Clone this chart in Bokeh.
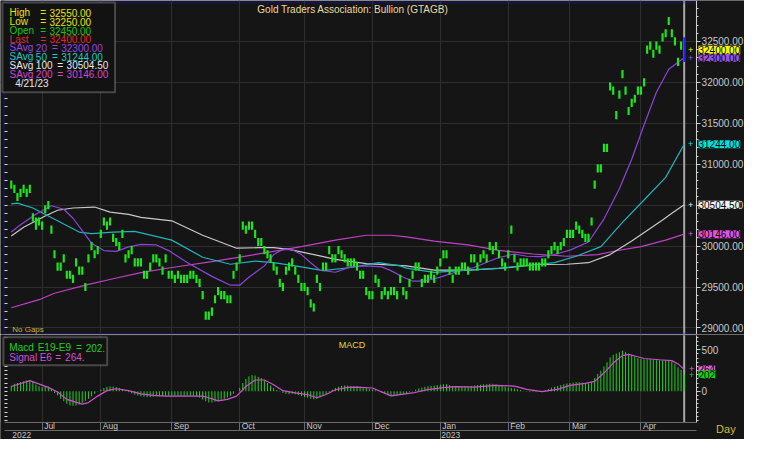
from bokeh.plotting import figure
from bokeh.layouts import column
from bokeh.models import (Range1d, LinearAxis, FixedTicker, NumeralTickFormatter,
                          CustomJSTickFormatter, Label, BoxAnnotation, Span, Grid)
from bokeh.embed import file_html
from bokeh.resources import INLINE

# ---------------- data ----------------
bar_high = [30800,30750,30650,30700,30750,30700,30750,30400,30350,30350,
            30300,30500,30550,30250,29950,29800,29800,29900,29700,29700,
            29650,29850,29750,29750,29550,29900,30050,29950,30000,30200,
            30350,30300,30350,30150,30100,30050,30200,29900,29950,30000,
            29850,29850,29850,29700,29700,29800,29900,29900,29850,29750,
            29900,29700,29700,29650,29700,29650,29650,29650,29700,29700,
            29650,29600,29450,29200,29200,29250,29400,29500,29450,29450,
            29400,29400,29700,29800,29900,30300,30250,30300,30300,30200,
            30100,30100,30000,29950,29900,29800,29750,29600,29550,29750,
            29800,29850,29750,29650,29550,29550,29500,29350,29300,29650,
            29550,29800,29800,30000,29900,29900,30000,29950,29900,29850,
            29850,29850,29800,29700,29700,29500,29450,29450,29650,29600,
            29450,29500,29450,29500,29500,29450,29650,29500,29450,29600,
            29700,29800,29800,29600,29650,29650,29700,29650,29750,29850,
            29950,29950,29750,29650,29750,29750,29800,29800,29750,29900,
            29900,29800,29900,29950,29900,30050,30000,30050,29950,29850,
            29800,29950,30250,29900,29800,29850,29850,29850,29800,29800,
            29800,29800,29850,29850,29950,30000,30050,30000,30050,30100,
            30200,30200,30200,30300,30250,30200,30150,30150,30350,30800,
            31000,31000,31250,31250,32000,31950,31650,31900,32150,31950,
            31700,31800,31850,31950,31950,32050,32450,32500,32400,32500,
            32450,32600,32650,32800,32650,32550,32300,32500,32550]
bar_low = [30700,30650,30550,30600,30650,30600,30650,30300,30200,30250,
           30200,30400,30450,30150,29850,29700,29700,29800,29600,29600,
           29550,29750,29650,29650,29450,29800,29950,29850,29900,30100,
           30250,30200,30250,30050,30000,29950,30100,29800,29850,29900,
           29750,29750,29750,29600,29600,29700,29800,29800,29750,29650,
           29800,29600,29600,29550,29600,29550,29550,29550,29600,29600,
           29550,29500,29350,29100,29100,29150,29300,29400,29350,29350,
           29300,29300,29600,29700,29800,30200,30150,30200,30200,30100,
           30000,30000,29900,29850,29800,29700,29650,29500,29450,29650,
           29700,29750,29650,29550,29450,29450,29400,29250,29200,29550,
           29450,29700,29700,29900,29800,29800,29900,29850,29800,29750,
           29750,29750,29700,29600,29600,29400,29350,29350,29550,29500,
           29350,29400,29350,29400,29400,29350,29550,29400,29350,29500,
           29600,29700,29700,29500,29550,29550,29600,29550,29650,29750,
           29850,29850,29650,29550,29650,29650,29700,29700,29650,29800,
           29800,29700,29800,29850,29800,29950,29900,29950,29850,29750,
           29700,29850,30150,29800,29700,29750,29750,29750,29700,29700,
           29700,29700,29750,29750,29850,29900,29950,29900,29950,30000,
           30100,30100,30100,30200,30150,30100,30050,30050,30250,30700,
           30900,30900,31150,31150,31900,31850,31550,31800,32050,31850,
           31600,31700,31750,31850,31850,31950,32350,32400,32300,32400,
           32350,32500,32550,32700,32550,32450,32200,32400,32250]
bar_idx = list(range(len(bar_high)))

ma20_idx = [0,3,8,13,17,20,23,26,30,34,38,42,47,51,57,65,71,74,77,82,85,88,91,94,97,100,
            105,110,115,120,123,127,130,134,139,145,150,155,158,163,167,171,175,181,187,192,
            197,201,205,209,213,218]
ma20_val = [30171,30260,30390,30493,30450,30340,30190,30035,29945,29935,29990,30020,30014,
            29945,29800,29630,29522,29522,29620,29758,29896,29960,29955,29896,29797,29705,
            29680,29746,29758,29746,29700,29620,29573,29573,29620,29695,29738,29817,29860,
            29903,29876,29870,29888,29950,30050,30330,30700,31060,31480,31880,32160,32300]
ma50_idx = [0,2,7,12,17,22,26,33,40,52,62,71,79,85,94,101,110,119,126,128,137,148,158,171,
            176,183,191,198,206,212,218]
ma50_val = [30516,30524,30465,30368,30269,30171,30151,30171,30179,30073,29864,29778,29817,
            29797,29746,29699,29738,29797,29758,29731,29679,29707,29731,29778,29797,29876,
            29994,30289,30603,30839,31244]
ma100_idx = [0,4,11,15,20,27,32,38,42,52,62,73,80,85,90,100,105,115,128,137,148,158,170,180,
             187,194,201,206,211,214,218]
ma100_val = [30124,30230,30368,30438,30465,30477,30415,30387,30350,30309,30132,29974,29980,
             29982,29960,29880,29837,29785,29758,29707,29707,29726,29775,29778,29797,29896,
             30061,30190,30320,30400,30504.5]
ma200_idx = [0,9,14,24,33,42,52,65,74,83,94,105,115,123,128,137,148,158,169,180,190,196,204,212,218]
ma200_val = [29246,29345,29424,29522,29601,29675,29738,29809,29864,29923,29994,30073,30132,
             30132,30112,30061,30014,29947,29903,29876,29896,29943,29994,30073,30146]

macd_val = [70,90,100,110,120,130,136,120,80,60,
            50,55,55,30,-20,-50,-90,-120,-150,-170,
            -175,-170,-160,-140,-115,-90,-60,-30,-5,20,
            40,55,60,58,50,40,30,15,-10,-25,
            -40,-50,-60,-65,-70,-70,-65,-60,-60,-60,
            -55,-55,-55,-55,-55,-55,-55,-55,-55,-55,
            -60,-75,-100,-120,-135,-135,-125,-110,-100,-90,
            -75,-55,-30,0,40,100,150,180,195,190,
            175,160,130,100,70,40,15,-5,-20,-30,
            -35,-30,-35,-45,-60,-70,-80,-90,-97,-90,
            -75,-55,-35,-10,20,40,55,65,70,70,
            65,62,60,55,50,40,30,20,10,0,
            -15,-30,-45,-55,-60,-55,-45,-35,-25,-10,
            5,20,35,45,55,60,65,70,75,80,
            85,85,75,65,60,55,55,60,60,65,
            70,75,80,85,85,90,90,85,75,65,
            55,45,40,35,25,15,5,-5,-10,-10,
            -10,-5,5,15,30,45,55,65,75,85,
            95,100,105,110,110,105,100,95,110,160,
            210,250,300,350,410,440,455,470,490,475,
            455,440,420,400,390,385,385,385,380,375,
            375,375,375,370,360,330,290,260,202]
sig_idx = [0,6,12,15,18,23,25,28,31,34,38,42,46,50,62,64,67,70,73,76,79,82,85,88,92,96,99,
           102,105,109,112,117,123,130,135,140,144,150,157,163,167,172,177,181,186,189,192,
           195,198,200,202,205,210,214,216,218]
sig_val = [58,128,47,-8,-97,-155,-136,-58,8,31,8,-31,-50,-58,-58,-78,-116,-97,-58,58,136,
           136,78,8,-19,-39,-78,-39,19,47,50,40,-55,-20,20,44,56,50,71,63,24,-4,24,71,95,
           120,220,340,430,445,425,395,380,370,330,264]

month_idx = [10, 29, 52, 74, 95, 117, 139, 161, 181, 204]
month_lbl = ["Jul", "Aug", "Sep", "Oct", "Nov", "Dec", "Jan", "Feb", "Mar", "Apr"]
year_idx = [0, 139]
year_lbl = ["2022", "2023"]

price_ticks = [29000, 29500, 30000, 30500, 31000, 31500, 32000, 32500]
macd_ticks = [0, 500]

legend_top = [("High", "32550.00", "#e6e600"), ("Low", "32250.00", "#e6e600"),
              ("Open", "32450.00", "#10c810"), ("Last", "32400.00", "#e02828")]
legend_avg = [("20", "32300.00", "#9448e0"), ("50", "31244.00", "#20c8c8"),
              ("100", "30504.50", "#e8e8e8"), ("200", "30146.00", "#d048d0")]
last_date = "4/21/23"
tag_vals = [32400.00, 32300.00, 31244.00, 30504.50, 30146.00]
tag_cols = ["#ffff00", "#9a55e0", "#00e0e0", "#f0f0f0", "#e055e0"]
macd_last, sig_last = 202, 264

# ---------------- geometry / styling ----------------
SX, SY = 744 / 760, 439 / 455
H1, H2 = 334, 105
BG = "#151515"
GRID = "#2e2e2e"
BLUE = "#1c1ccc"
FONT = "Liberation Sans"
GREEN = "#1ee61e"
C20, C50, C100, C200 = "#8c44dc", "#20b4bc", "#c8c8c8", "#c040c8"
SIGC = "#d050d0"
AXC = "#d0d0d0"

def s1(xr, yr):          # reference pixel -> screen units of the price panel
    return xr * SX, H1 - yr * SY
def s2(xr, yr):          # reference pixel -> screen units of the MACD panel
    return xr * SX, H1 + H2 - yr * SY

X_AX_L, X_AX_R = -2.22, 222.02   # left / right axis positions (bar index)
xrng = Range1d(-3.489, 237.54)

def base_fig(h, yr):
    f = figure(width=744, height=h, x_range=xrng, y_range=yr, output_backend="svg",
               toolbar_location=None, min_border_left=0, min_border_right=0,
               min_border_top=0, min_border_bottom=0,
               background_fill_color=BG, border_fill_color=BG, outline_line_color=None,
               x_axis_location=None, y_axis_location=None)
    for g in f.grid:
        g.visible = False
    return f

def lab(fig, x, y, text, color, size="10px", align="left", **kw):
    fig.add_layout(Label(x=x, y=y, x_units="screen", y_units="screen", text=text,
                         text_color=color, text_font=FONT, text_font_size=size,
                         text_align=align, text_baseline="middle", **kw))

def box(fig, l, r, b, t, fill=None, line=None, width=1, level="underlay"):
    fig.add_layout(BoxAnnotation(left=l, right=r, bottom=b, top=t, left_units="screen",
                                 right_units="screen", top_units="screen",
                                 bottom_units="screen", fill_color=fill,
                                 fill_alpha=1 if fill else 0, line_color=line,
                                 line_width=width, level=level))

def value_axis(ticks, minor, fmt=None, bounds="auto"):
    kw = dict(ticker=FixedTicker(ticks=ticks, minor_ticks=minor), fixed_location=X_AX_R,
              axis_line_color=AXC, major_tick_out=4, major_tick_in=0, minor_tick_out=2,
              minor_tick_in=0, major_tick_line_color=AXC, minor_tick_line_color=AXC,
              major_label_text_color="#c8c8c8", major_label_text_font=FONT,
              major_label_text_font_size="10px", major_label_standoff=1, bounds=bounds)
    if fmt is not None:
        kw["formatter"] = fmt
    return LinearAxis(**kw)

def tick_axis(ticks, loc, tin, tout, color, bounds="auto", line=None):
    return LinearAxis(ticker=FixedTicker(ticks=ticks), fixed_location=loc,
                      formatter=CustomJSTickFormatter(code="return ''"),
                      axis_line_color=line, major_tick_in=tin, major_tick_out=tout,
                      major_tick_line_color=color, minor_tick_line_color=None,
                      major_label_standoff=0, major_label_text_font_size="1px",
                      bounds=bounds)

def tag(fig, xs, v, text, c, size):
    fig.add_layout(Label(x=xs, y=v, x_units="screen", y_units="data", text=text,
                         text_color="#000000", text_font=FONT, text_font_size=size,
                         text_align="left", text_baseline="middle",
                         background_fill_color=c, padding=0))

def plus(fig, xs, v, c):
    fig.add_layout(Label(x=xs, y=v, x_units="screen", y_units="data", text="+", text_color=c,
                         text_font=FONT, text_font_size="9px", text_align="center",
                         text_baseline="middle"))

# ================= price panel =================
p = base_fig(H1, Range1d(28919.7, 33000.4))
p.add_layout(Grid(dimension=0, ticker=FixedTicker(ticks=month_idx), grid_line_color=GRID))
p.add_layout(Grid(dimension=1, ticker=FixedTicker(ticks=price_ticks), grid_line_color=GRID))
p.add_layout(Span(location=bar_idx[-1], dimension="height", line_color="#a8a8a8",
                  line_width=2, level="underlay"))
xl, _ = s1(4, 0)
xr_, _ = s1(711, 0)
box(p, xr_, 744, 0, H1, fill=BG)          # value-axis area
box(p, 0, xl, 0, H1, fill=BG)
_, yt = s1(0, 2)
_, yb = s1(0, 345.5)
box(p, xl, xr_, yb, yt, line=BLUE, width=2)   # blue pane border

p.add_layout(value_axis(price_ticks, list(range(28900, 33000, 100)),
                        fmt=NumeralTickFormatter(format="0.00")), "right")
p.add_layout(tick_axis(list(range(28900, 33000, 100)), X_AX_L, 3, 0, "#d8d8d8"), "left")

p.line(ma200_idx, ma200_val, line_color=C200, line_width=1.2)
p.line(ma100_idx, ma100_val, line_color=C100, line_width=1.2)
p.line(ma50_idx, ma50_val, line_color=C50, line_width=1.2)
p.line(ma20_idx, ma20_val, line_color=C20, line_width=1.2)
p.vbar(x=bar_idx[:-1], bottom=bar_low[:-1], top=bar_high[:-1], width=0.7,
       fill_color=GREEN, line_color=None)
p.vbar(x=bar_idx[-1:], bottom=bar_low[-1:], top=bar_high[-1:], width=0.55,
       fill_color="#2020ff", line_color=None)

x, y = s1(360, 9.5)
lab(p, x, y, "Gold Traders Association: Bullion (GTAGB)", "#e6dca0", size="10px", align="center")
x, y = s1(12, 341)
lab(p, x, y, "No Gaps", "#c8b43c", size="8px")

l, t = s1(2, 2)
r, b = s1(117, 95)
box(p, l, r, b, t, fill="#121212", line="#c4c4c4", width=2, level="overlay")
rows_y = [12.7, 22, 31.3, 40, 49, 58.3, 67.3, 76.3, 86]
for (name, val, col), ry in zip(legend_top, rows_y[:4]):
    for xx, txt in ((9.3, name), (40.7, "="), (50, val)):
        x, y = s1(xx, ry)
        lab(p, x, y, txt, col, level="overlay")
for (per, val, col), ry in zip(legend_avg, rows_y[4:8]):
    eq_x, v_x = (52.5, 62) if len(per) == 2 else (58, 67.5)
    for xx, txt in ((9.3, "SAvg"), (36.1, per), (eq_x, "="), (v_x, val)):
        x, y = s1(xx, ry)
        lab(p, x, y, txt, col, level="overlay")
x, y = s1(15, rows_y[8])
lab(p, x, y, last_date, "#e8e8e8", level="overlay")

for v, c in zip(tag_vals, tag_cols):
    plus(p, s1(705, 0)[0], v, c)
for v, c in reversed(list(zip(tag_vals, tag_cols))):
    tag(p, s1(713, 0)[0], v, f"{v:.2f}", c, "10px")

# ================= MACD panel + date rows =================
MACD_LO, MACD_HI = -372, 674
q = base_fig(H2, Range1d(-580.8, 684.5))
q.add_layout(Grid(dimension=0, ticker=FixedTicker(ticks=month_idx), grid_line_color=GRID))
q.add_layout(Span(location=bar_idx[-1], dimension="height", line_color="#a8a8a8",
                  line_width=2, level="underlay"))
xl, _ = s2(4, 0)
xr_, _ = s2(711, 0)
_, yb = s2(0, 437)
_, yt = s2(0, 347)
box(q, 0, 744, 0, yb, fill=BG)             # date rows
box(q, xr_, 744, 0, H2, fill=BG)           # value-axis area
box(q, 0, xl, 0, H2, fill=BG)
box(q, xl, xr_, yb, yt, line="#3c3c3c", width=1)

q.add_layout(value_axis(macd_ticks, list(range(-350, 651, 50)),
                        bounds=(MACD_LO, MACD_HI)), "right")
q.add_layout(tick_axis(list(range(-350, 651, 50)), X_AX_L, 3, 0, "#d8d8d8",
                       bounds=(MACD_LO, MACD_HI)), "left")
q.add_layout(tick_axis(month_idx, MACD_LO, 0, 8, "#6a6a6a", bounds=(X_AX_L, X_AX_R),
                       line="#6a6a6a"), "below")
q.add_layout(tick_axis(year_idx[1:], -477, 0, 9, "#6a6a6a", bounds=(X_AX_L, X_AX_R),
                       line="#6a6a6a"), "below")

q.segment(x0=bar_idx, y0=[0] * len(bar_idx), x1=bar_idx, y1=macd_val,
          line_color="#1ed21e", line_width=1)
q.line(sig_idx, sig_val, line_color=SIGC, line_width=1.2)

x, y = s2(359, 357)
lab(q, x, y, "MACD", "#e6d840", size="9px", align="center")

l, t = s2(3, 349)
r, b = s2(109, 378)
box(q, l, r, b, t, fill="#121212", line="#c4c4c4", width=2, level="overlay")
for xx, txt in ((9, "Macd"), (38, "E19-E9"), (77, "="), (87, f"{macd_last}.")):
    x, y = s2(xx, 360)
    lab(q, x, y, txt, "#20d020", level="overlay")
for xx, txt in ((9, "Signal"), (40, "E6"), (56, "="), (66, f"{sig_last}.")):
    x, y = s2(xx, 369.5)
    lab(q, x, y, txt, SIGC, level="overlay")

for v, c in ((sig_last, "#e060e0"), (macd_last, "#10d810")):
    plus(q, s2(706, 0)[0], v, c)
    tag(q, s2(713, 0)[0], v, str(v), c, "10px")

_, ym = s2(0, 441.5)
for i, t in zip(month_idx, month_lbl):
    q.add_layout(Label(x=i, y=ym, x_units="data", y_units="screen", x_offset=2, text=t,
                       text_color="#c8c8c8", text_font=FONT, text_font_size="8.5px",
                       text_align="left", text_baseline="middle"))
_, yy = s2(0, 450.5)
for i, t in zip(year_idx, year_lbl):
    q.add_layout(Label(x=i, y=yy, x_units="data", y_units="screen", x_offset=1, text=t,
                       text_color="#c8c8c8", text_font=FONT, text_font_size="8.5px",
                       text_align="left", text_baseline="middle"))
x, y = s2(731, 444)
lab(q, x, y, "Day", "#d2be3c", size="11px")

layout = column(p, q, spacing=0)
open("out.html", "w").write(file_html(layout, INLINE))
